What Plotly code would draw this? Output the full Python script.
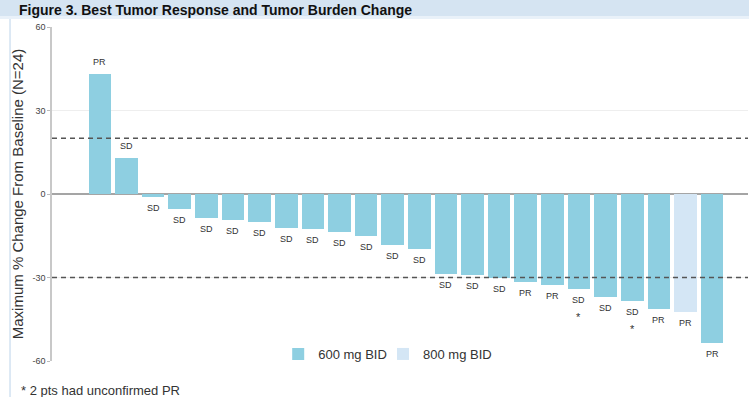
import plotly.graph_objects as go

# Best response per patient, sorted by maximum % change in tumor burden
responses = ["PR", "SD", "SD", "SD", "SD", "SD", "SD", "SD", "SD", "SD", "SD", "SD",
             "SD", "SD", "SD", "SD", "PR", "PR", "SD", "SD", "SD", "PR", "PR", "PR"]
pct_change = [43, 13, -1, -5.5, -8.6, -9.4, -10, -12.3, -12.6, -13.7, -15.1, -18.3,
              -19.8, -28.8, -29.1, -30.2, -31.6, -32.7, -34.2, -37, -38.5, -41.4, -42.4, -53.6]
dose = ["600 mg BID"] * 22 + ["800 mg BID"] + ["600 mg BID"]
unconfirmed_pr = [False] * 18 + [True, False, True] + [False] * 3
recist_lines = [20, -30]
y_ticks = [60, 30, 0, -30, -60]

dose_colors = {"600 mg BID": "#8ecfe1", "800 mg BID": "#d4e6f5"}
dose_legend = {"600 mg BID": "legend", "800 mg BID": "legend2"}
FONT = "Liberation Sans, Arial, sans-serif"

fig = go.Figure()
for d in ["600 mg BID", "800 mg BID"]:
    idx = [i for i, v in enumerate(dose) if v == d]
    fig.add_trace(go.Bar(
        x=idx, y=[pct_change[i] for i in idx], name=d,
        marker=dict(color=dose_colors[d], line=dict(width=0)),
        width=0.85, legend=dose_legend[d],
    ))

annotations = []
for i, (r, v) in enumerate(zip(responses, pct_change)):
    annotations.append(dict(x=i, y=v, xref="x", yref="y", text=r, showarrow=False,
                            yshift=12 if v > 0 else -11,
                            font=dict(family=FONT, size=9, color="#333333")))
    if unconfirmed_pr[i]:
        annotations.append(dict(x=i, y=v, xref="x", yref="y", text="*", showarrow=False,
                                yshift=-28, font=dict(family=FONT, size=11, color="#333333")))

# panel heading band and footnote
annotations.append(dict(x=-0.05, y=1.081, xref="paper", yref="paper", xanchor="left",
                        yanchor="top", showarrow=False,
                        text="<b>Figure 3. Best Tumor Response and Tumor Burden Change</b>",
                        font=dict(family=FONT, size=14, color="#111111")))
annotations.append(dict(x=-0.047, y=-0.087, xref="paper", yref="paper", xanchor="left",
                        yanchor="middle", showarrow=False,
                        text="* 2 pts had unconfirmed PR",
                        font=dict(family=FONT, size=13, color="#333333")))

shapes = [
    dict(type="rect", xref="paper", yref="paper", x0=-0.09, x1=1.02, y0=1.033, y1=1.12,
         fillcolor="#d5e4f2", line=dict(width=0), layer="below"),
    dict(type="rect", xref="paper", yref="paper", x0=-0.09, x1=1.02, y0=1.024, y1=1.033,
         fillcolor="#e9f1f9", line=dict(width=0), layer="below"),
    dict(type="line", xref="paper", yref="paper", x0=-0.0603, x1=-0.0603, y0=-0.12, y1=1.024,
         line=dict(color="#d2e2f1", width=1.5)),
]
for v in recist_lines:
    shapes.append(dict(type="line", xref="paper", yref="y", x0=0, x1=1, y0=v, y1=v,
                       line=dict(color="#555555", width=1.5, dash="5px,4px"), layer="above"))

legend_style = dict(orientation="h", y=0.021, xanchor="left", yanchor="middle",
                    font=dict(family=FONT, size=13, color="#333333"),
                    bgcolor="rgba(0,0,0,0)", itemclick=False)

fig.update_layout(
    width=749, height=397,
    margin=dict(l=52, r=1, t=27, b=36),
    paper_bgcolor="white", plot_bgcolor="white",
    barmode="overlay", bargap=0,
    showlegend=True,
    legend=dict(x=0.325, **legend_style),
    legend2=dict(x=0.4756, **legend_style),
    font=dict(family=FONT, color="#333333"),
    annotations=annotations,
    shapes=shapes,
    xaxis=dict(range=[-1.8, 24.35], visible=False, fixedrange=True),
    yaxis=dict(range=[-60, 60], tickvals=y_ticks, ticktext=[str(t) for t in y_ticks],
               tickfont=dict(family=FONT, size=9, color="#444444"),
               ticks="outside", ticklen=3, tickcolor="#bbbbbb",
               showline=True, linecolor="#c8c8c8", linewidth=1.5,
               showgrid=True, gridcolor="#eeeeee", gridwidth=1,
               zeroline=True, zerolinecolor="#a5a5a5", zerolinewidth=2,
               title=dict(text="Maximum % Change From Baseline (N=24)", standoff=5,
                          font=dict(family=FONT, size=15, color="#333333")),
               automargin=False, fixedrange=True),
)

fig.write_html("out.html")
